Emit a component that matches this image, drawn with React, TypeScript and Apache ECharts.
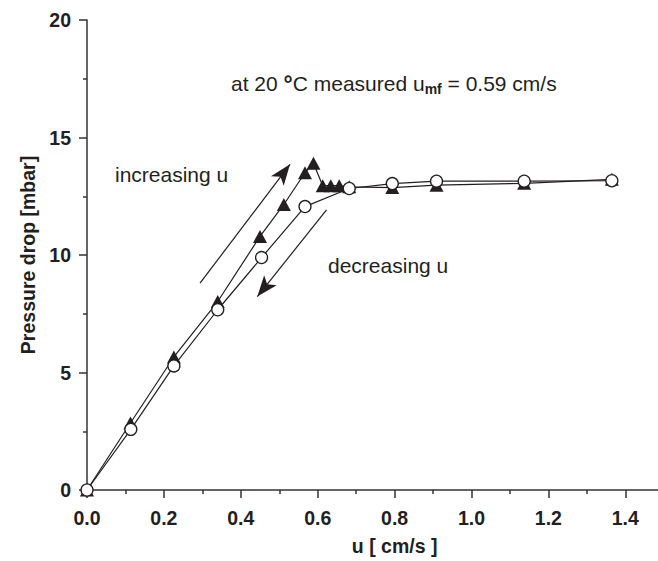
import React, { useEffect, useRef } from "react";
import * as echarts from "echarts";

const incU = [0, 0.113, 0.226, 0.34, 0.45, 0.512, 0.567, 0.589, 0.613, 0.634, 0.656, 0.682, 0.794, 0.909, 1.137, 1.365];
const incP = [0, 2.85, 5.66, 8.02, 10.79, 12.15, 13.5, 13.9, 12.95, 12.95, 12.95, 12.9, 12.87, 12.97, 13.05, 13.22];
const decU = [0, 0.114, 0.226, 0.34, 0.454, 0.567, 0.682, 0.794, 0.909, 1.137, 1.365];
const decP = [0, 2.58, 5.28, 7.67, 9.89, 12.06, 12.83, 13.04, 13.14, 13.14, 13.16];

const incArrow = [[0.294, 8.8], [0.528, 13.86]];
const decArrow = [[0.623, 11.92], [0.443, 8.23]];

const xLabelValues = [0, 0.2, 0.4, 0.6, 0.8, 1.0, 1.2, 1.4];
const yLabelValues = [0, 5, 10, 15, 20];

const FONT = "Liberation Sans, Arial, sans-serif";
const INK = "#231f20";

export default function App() {
  const ref = useRef<HTMLDivElement>(null);
  useEffect(() => {
    document.body.style.margin = "0";
    if (!ref.current) return;
    const chart = echarts.init(ref.current, undefined, { renderer: "svg" });
    const axisCommon = {
      axisLine: { show: true, lineStyle: { color: "#333", width: 1.5 } },
      axisTick: { show: true, length: 8, lineStyle: { color: "#333", width: 1.5 } },
      minorTick: { show: true, splitNumber: 2, length: 4, lineStyle: { color: "#333", width: 1.5 } },
      splitLine: { show: false },
      nameTextStyle: { fontFamily: FONT, fontSize: 19.5, fontWeight: "bold", color: INK },
    };
    chart.setOption({
      animation: false,
      backgroundColor: "#fff",
      grid: { left: 87, top: 20, bottom: 69, width: 615.2, containLabel: false },
      xAxis: {
        type: "value",
        min: 0,
        max: 1.6,
        interval: 0.2,
        name: "u [ cm/s ]",
        nameLocation: "middle",
        nameGap: 46,
        ...axisCommon,
        axisLabel: {
          margin: 18,
          fontFamily: FONT,
          fontSize: 19.5,
          fontWeight: "bold",
          color: INK,
          formatter: (v: number) => (xLabelValues.some((t) => Math.abs(t - v) < 1e-6) ? v.toFixed(1) : ""),
        },
      },
      yAxis: {
        type: "value",
        min: 0,
        max: 20,
        interval: 5,
        name: "Pressure drop [mbar]",
        nameLocation: "middle",
        nameGap: 49,
        ...axisCommon,
        axisLabel: {
          margin: 16,
          fontFamily: FONT,
          fontSize: 19.5,
          fontWeight: "bold",
          color: INK,
          formatter: (v: number) => (yLabelValues.includes(v) ? String(v) : ""),
        },
      },
      series: [
        {
          name: "increasing",
          type: "line",
          data: incU.map((u, i) => [u, incP[i]]),
          symbol: "triangle",
          symbolSize: [14, 13],
          lineStyle: { color: INK, width: 1.2 },
          itemStyle: { color: INK, borderColor: INK, borderWidth: 0 },
          z: 2,
          silent: true,
          markLine: {
            silent: true,
            symbol: ["none", "arrow"],
            symbolSize: [12, 21],
            label: { show: false },
            lineStyle: { color: INK, width: 1.2, type: "solid" },
            data: [
              [{ coord: incArrow[0] }, { coord: incArrow[1] }],
              [{ coord: decArrow[0] }, { coord: decArrow[1] }],
            ],
          },
        },
        {
          name: "decreasing",
          type: "line",
          data: decU.map((u, i) => [u, decP[i]]),
          symbol: "circle",
          symbolSize: 12,
          lineStyle: { color: INK, width: 1.2 },
          itemStyle: { color: "#fff", borderColor: INK, borderWidth: 1.3 },
          z: 3,
          silent: true,
        },
      ],
      graphic: [
        {
          type: "text",
          left: 115,
          top: 164,
          silent: true,
          style: { text: "increasing u", fontFamily: FONT, fontSize: 21, fill: INK },
        },
        {
          type: "text",
          left: 328,
          top: 255,
          silent: true,
          style: { text: "decreasing u", fontFamily: FONT, fontSize: 21, fill: INK },
        },
        {
          type: "text",
          left: 231,
          top: 72,
          silent: true,
          style: {
            text: "{a|at 20 }{d|°}{a|C measured u}{s|mf}{a| = 0.59 cm/s}",
            fill: INK,
            rich: {
              a: { fontFamily: FONT, fontSize: 21, lineHeight: 25, fill: INK },
              d: { fontFamily: FONT, fontSize: 23, fontWeight: "bold", lineHeight: 25, fill: INK },
              s: { fontFamily: FONT, fontSize: 14, fontWeight: "bold", lineHeight: 0.5, verticalAlign: "bottom", fill: INK },
            },
          },
        },
      ],
    });
    return () => chart.dispose();
  }, []);
  return (
    <div style={{ position: "absolute", left: 0, top: 0, width: 658, height: 561, overflow: "hidden", background: "#fff" }}>
      <div ref={ref} style={{ width: 710, height: 561 }} />
    </div>
  );
}
